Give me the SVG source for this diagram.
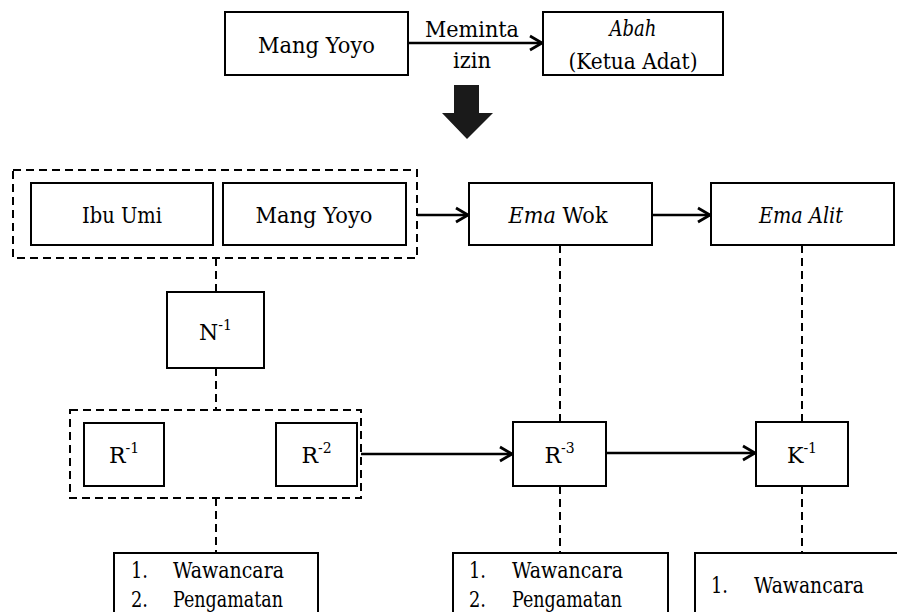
<svg xmlns="http://www.w3.org/2000/svg" width="897" height="612" viewBox="0 0 897 612">
<style>
  .box { fill: #fff; stroke: #000; stroke-width: 2; }
  .grp { fill: none; stroke: #000; stroke-width: 2; stroke-dasharray: 8 5; }
  .dash { fill: none; stroke: #000; stroke-width: 2; stroke-dasharray: 8 5; }
  .arr { fill: none; stroke: #000; stroke-width: 2.6; marker-end: url(#chev); }
  text { font-family: 'DejaVu Serif', 'Liberation Serif', serif; font-size: 22px; fill: #000; }
  .c { text-anchor: middle; }
  .i { font-style: italic; }
  .sup { font-size: 14px; }
</style>
<defs>
  <marker id="chev" markerUnits="userSpaceOnUse" markerWidth="16" markerHeight="18" refX="13" refY="9" orient="auto">
    <polyline points="1,2 13,9 1,16" fill="none" stroke="#000" stroke-width="2.8"/>
  </marker>
</defs>
<rect width="897" height="612" fill="#fff"/>

<g id="connectors">
  <line class="arr" x1="408" y1="43" x2="542" y2="43"/>
  <polygon points="454,85 479,85 479,113 493,113 467,139 442,113 454,113" fill="#1a1a1a"/>
  <line class="arr" x1="417" y1="215" x2="468" y2="215"/>
  <line class="arr" x1="652" y1="215" x2="710" y2="215"/>
  <line class="dash" x1="216" y1="258" x2="216" y2="292"/>
  <line class="dash" x1="216" y1="368" x2="216" y2="410"/>
  <line class="arr" x1="361" y1="454" x2="512" y2="454"/>
  <line class="arr" x1="606" y1="453" x2="755" y2="453"/>
  <line class="dash" x1="560" y1="245" x2="560" y2="422"/>
  <line class="dash" x1="802" y1="245" x2="802" y2="422"/>
  <line class="dash" x1="216" y1="498" x2="216" y2="553"/>
  <line class="dash" x1="560" y1="486" x2="560" y2="553"/>
  <line class="dash" x1="802" y1="486" x2="802" y2="553"/>
</g>

<g id="node-mangyoyo-top">
  <rect class="box" x="225" y="12" width="183" height="63"/>
  <text class="c" x="316.5" y="53" textLength="117" lengthAdjust="spacingAndGlyphs">Mang Yoyo</text>
</g>
<g id="label-meminta">
  <text class="c" x="472" y="37" textLength="94" lengthAdjust="spacingAndGlyphs">Meminta</text>
  <text class="c" x="472" y="68" textLength="38" lengthAdjust="spacingAndGlyphs">izin</text>
</g>
<g id="node-abah">
  <rect class="box" x="543" y="12" width="180" height="63"/>
  <text class="c i" x="633" y="36" textLength="47" lengthAdjust="spacingAndGlyphs">Abah</text>
  <text class="c" x="633" y="69" textLength="129" lengthAdjust="spacingAndGlyphs">(Ketua Adat)</text>
</g>

<g id="group-1">
  <rect class="grp" x="13" y="170" width="404" height="88"/>
</g>
<g id="node-ibuumi">
  <rect class="box" x="31" y="183" width="182" height="62"/>
  <text class="c" x="122" y="223" textLength="80" lengthAdjust="spacingAndGlyphs">Ibu Umi</text>
</g>
<g id="node-mangyoyo">
  <rect class="box" x="223" y="183" width="183" height="62"/>
  <text class="c" x="314" y="223" textLength="117" lengthAdjust="spacingAndGlyphs">Mang Yoyo</text>
</g>
<g id="node-emawok">
  <rect class="box" x="469" y="183" width="183" height="62"/>
  <text class="c" x="558" y="223" textLength="99" lengthAdjust="spacingAndGlyphs"><tspan class="i">Ema</tspan> Wok</text>
</g>
<g id="node-emaalit">
  <rect class="box" x="711" y="183" width="183" height="62"/>
  <text class="c i" x="801" y="223" textLength="84" lengthAdjust="spacingAndGlyphs">Ema Alit</text>
</g>

<g id="node-n1">
  <rect class="box" x="167" y="292" width="97" height="76"/>
  <text class="c" x="215.5" y="340">N<tspan class="sup" dy="-10">-1</tspan></text>
</g>

<g id="group-2">
  <rect class="grp" x="70" y="410" width="291" height="88"/>
</g>
<g id="node-r1">
  <rect class="box" x="84" y="423" width="80" height="63"/>
  <text class="c" x="124" y="463">R<tspan class="sup" dy="-10">-1</tspan></text>
</g>
<g id="node-r2">
  <rect class="box" x="276" y="423" width="81" height="63"/>
  <text class="c" x="316.5" y="463">R<tspan class="sup" dy="-10">-2</tspan></text>
</g>
<g id="node-r3">
  <rect class="box" x="513" y="422" width="93" height="64"/>
  <text class="c" x="559.5" y="463">R<tspan class="sup" dy="-10">-3</tspan></text>
</g>
<g id="node-k1">
  <rect class="box" x="756" y="422" width="92" height="64"/>
  <text class="c" x="802" y="463">K<tspan class="sup" dy="-10">-1</tspan></text>
</g>

<g id="node-method-1">
  <rect class="box" x="114" y="553" width="204" height="70"/>
  <text x="131" y="578" textLength="17" lengthAdjust="spacingAndGlyphs">1.</text>
  <text x="173" y="578" textLength="111" lengthAdjust="spacingAndGlyphs">Wawancara</text>
  <text x="131" y="607" textLength="17" lengthAdjust="spacingAndGlyphs">2.</text>
  <text x="173" y="607" textLength="110" lengthAdjust="spacingAndGlyphs">Pengamatan</text>
</g>
<g id="node-method-2">
  <rect class="box" x="453" y="553" width="215" height="70"/>
  <text x="469" y="578" textLength="17" lengthAdjust="spacingAndGlyphs">1.</text>
  <text x="512" y="578" textLength="111" lengthAdjust="spacingAndGlyphs">Wawancara</text>
  <text x="469" y="607" textLength="17" lengthAdjust="spacingAndGlyphs">2.</text>
  <text x="512" y="607" textLength="110" lengthAdjust="spacingAndGlyphs">Pengamatan</text>
</g>
<g id="node-method-3">
  <rect class="box" x="695" y="553" width="210" height="70"/>
  <text x="711" y="593" textLength="17" lengthAdjust="spacingAndGlyphs">1.</text>
  <text x="754" y="593" textLength="110" lengthAdjust="spacingAndGlyphs">Wawancara</text>
</g>
</svg>
